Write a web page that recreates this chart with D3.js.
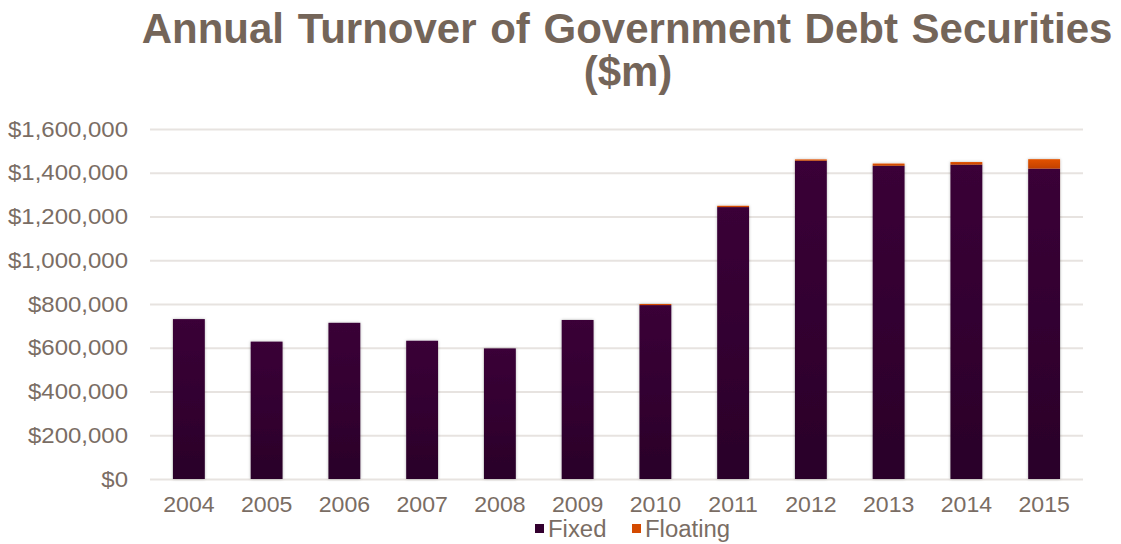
<!DOCTYPE html>
<html>
<head>
<meta charset="utf-8">
<script src="https://cdn.jsdelivr.net/npm/d3@7"></script>
<style>
  html, body { margin: 0; padding: 0; background: #ffffff; }
  svg { display: block; }
</style>
</head>
<body>
<svg id="chart" width="1121" height="544"></svg>
<script>
// Annual turnover of government debt securities, $m
const years = ["2004", "2005", "2006", "2007", "2008", "2009", "2010", "2011", "2012", "2013", "2014", "2015"];
const fixed = [731000, 628000, 714000, 632000, 597000, 727000, 795000, 1243000, 1455000, 1432000, 1437000, 1419000];
const floating = [0, 0, 0, 0, 0, 0, 5000, 6000, 6000, 10000, 12000, 43000];
const yTicks = [0, 200000, 400000, 600000, 800000, 1000000, 1200000, 1400000, 1600000];
const seriesNames = ["Fixed", "Floating"];

const W = 1121, H = 544;
const margin = { left: 150, right: 38, top: 129, bottom: 65 };
const textColor = "#7a6d64";
const titleColor = "#746559";
const gridColor = "#e7e3e0";
const fontFamily = "'Liberation Sans', Arial, sans-serif";

const svg = d3.select("#chart");

const defs = svg.append("defs");
function vGrad(id, top, bottom) {
  const g = defs.append("linearGradient").attr("id", id)
    .attr("x1", 0).attr("y1", 0).attr("x2", 0).attr("y2", 1);
  g.append("stop").attr("offset", "0%").attr("stop-color", top);
  g.append("stop").attr("offset", "100%").attr("stop-color", bottom);
}
vGrad("gFixed", "#3a0037", "#2a0029");
vGrad("gFloat", "#e35300", "#c24100");
const sh = defs.append("filter").attr("id", "shadow")
  .attr("x", "-20%").attr("y", "-5%").attr("width", "140%").attr("height", "110%");
sh.append("feDropShadow").attr("dx", 0).attr("dy", 0).attr("stdDeviation", 1.6)
  .attr("flood-color", "#000").attr("flood-opacity", 0.28);

const x = d3.scaleBand().domain(years).range([margin.left, W - margin.right]).paddingInner(0.59).paddingOuter(0.295);
const y = d3.scaleLinear().domain([0, 1600000]).range([H - margin.bottom, margin.top]);

// Gridlines
svg.append("g")
  .attr("transform", `translate(${margin.left},0)`)
  .call(d3.axisLeft(y).tickValues(yTicks).tickSize(-(W - margin.right - margin.left)).tickFormat(""))
  .call(g => g.select(".domain").remove())
  .call(g => g.selectAll("line").attr("stroke", gridColor).attr("stroke-width", 2));

// Y axis labels (slightly wide lettering)
const yStretch = 1.09;
svg.append("g")
  .attr("transform", `translate(${margin.left},0)`)
  .call(d3.axisLeft(y).tickValues(yTicks).tickSize(0).tickPadding(22)
    .tickFormat(d => "$" + d3.format(",")(d)))
  .call(g => g.select(".domain").remove())
  .call(g => g.selectAll("text")
    .attr("fill", textColor).attr("font-size", 22).attr("font-family", fontFamily)
    .attr("x", -22 / yStretch)
    .attr("transform", `scale(${yStretch},1)`));

// X axis labels
const xStretch = 1.05;
svg.append("g")
  .attr("transform", `translate(0,${H - margin.bottom})`)
  .call(d3.axisBottom(x).tickSize(0).tickPadding(17))
  .call(g => g.select(".domain").remove())
  .call(g => g.selectAll("text")
    .attr("fill", textColor).attr("font-size", 22).attr("font-family", fontFamily)
    .attr("transform", `scale(${xStretch},1)`));

// Stacked bars
const stackData = years.map((yr, i) => ({ year: yr, Fixed: fixed[i], Floating: floating[i] }));
const stacked = d3.stack().keys(seriesNames)(stackData);
const fills = { Fixed: "url(#gFixed)", Floating: "url(#gFloat)" };

svg.append("g").attr("filter", "url(#shadow)")
  .selectAll("g").data(stacked).join("g")
  .attr("fill", d => fills[d.key])
  .selectAll("rect").data(d => d.filter(p => p[1] > p[0])).join("rect")
  .attr("x", d => x(d.data.year))
  .attr("width", x.bandwidth())
  .attr("y", d => y(d[1]))
  .attr("height", d => y(d[0]) - y(d[1]));

// Title
const title = svg.append("text")
  .attr("text-anchor", "middle")
  .attr("fill", titleColor)
  .attr("font-family", fontFamily)
  .attr("font-weight", "bold")
  .attr("font-size", 42)
  .attr("word-spacing", 2);
title.append("tspan").attr("x", 627).attr("y", 43).text("Annual Turnover of Government Debt Securities");
title.append("tspan").attr("x", 628).attr("y", 86).text("($m)");

// Legend
const legendColors = { Fixed: "#33002f", Floating: "#d44a00" };
const legend = svg.append("g").attr("font-family", fontFamily).attr("font-size", 23).attr("fill", textColor);
const legendX = { Fixed: 535, Floating: 632 };
seriesNames.forEach(name => {
  const g = legend.append("g").attr("transform", `translate(${legendX[name]},0)`);
  g.append("rect").attr("x", 0).attr("y", 524).attr("width", 9).attr("height", 9).attr("fill", legendColors[name]);
  g.append("text").attr("x", 13).attr("y", 537)
    .attr("transform", `translate(13,537) scale(1.04,1) translate(-13,-537)`)
    .text(name);
});
</script>
</body>
</html>
